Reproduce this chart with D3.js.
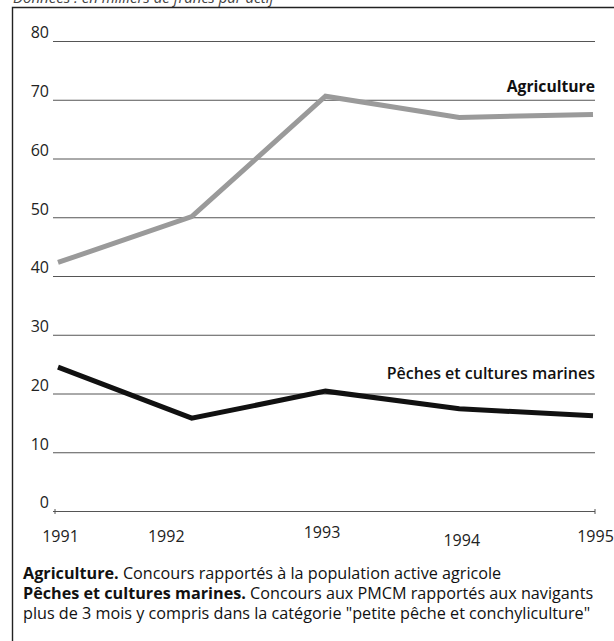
<!DOCTYPE html>
<html><head><meta charset="utf-8">
<script src="https://cdn.jsdelivr.net/npm/d3@7"></script>
<style>body{margin:0;background:#fff}svg{display:block}</style>
</head><body>
<script>
const years = [1991, 1992, 1993, 1994, 1995];
const agriculture = [42.3, 50.1, 70.6, 67.0, 67.5];
const peches = [24.5, 15.8, 20.4, 17.4, 16.2];
const yTicks = [0, 10, 20, 30, 40, 50, 60, 70, 80];
const yearLabels = ["1991", "1992", "1993", "1994", "1995"];
const caption = "Données : en milliers de francs par actif";
const notes = [
  [["Agriculture.", 1], [" Concours rapportés à la population active agricole", 0]],
  [["Pêches et cultures marines.", 1], [" Concours aux PMCM rapportés aux navigants", 0]],
  [["plus de 3 mois y compris dans la catégorie \"petite pêche et conchyliculture\"", 0]]
];

const W = 614, H = 641;
const svg = d3.select("body").append("svg").attr("width", W).attr("height", H);
const font = "'Open Sans', 'DejaVu Sans', sans-serif";

const x = d3.scaleLinear().domain([1991, 1995]).range([58, 593]);
const y = d3.scaleLinear().domain([0, 80]).range([511, 41]);

// caption (cut off at top, as in the reference)
svg.append("text").attr("x", 13).attr("y", 3).attr("font-family", font)
  .attr("font-style", "italic").attr("font-size", 15).attr("fill", "#444").text(caption);

// frame
svg.append("path").attr("d", `M12.5,${H + 5}V7.5H${W + 5}`).attr("fill", "none")
  .attr("stroke", "#222").attr("stroke-width", 1.4);

// gridlines + y labels
const yAxis = d3.axisLeft(y).tickValues(yTicks).tickSize(0).tickPadding(0);
const gy = svg.append("g").call(yAxis);
gy.select(".domain").remove();
gy.selectAll(".tick text").attr("x", 49).attr("dy", "-0.2em").attr("text-anchor", "end")
  .attr("font-family", font).attr("font-size", 16).attr("fill", "#222");
gy.selectAll(".tick").append("line").attr("x1", 53).attr("x2", 595)
  .attr("stroke", "#555").attr("stroke-width", 1);

// small ticks at the ends of the zero line
[1991, 1995].forEach(v => {
  const xx = x(v) + (v === 1991 ? -3 : 2);
  svg.append("line").attr("x1", xx).attr("x2", xx)
    .attr("y1", y(0) - 2).attr("y2", y(0) + 3).attr("stroke", "#555");
});

// x labels
const xLabelShift = [2, -26, -4, 2, 2];
const xLabelDy = [0, 0, -4, 4, 0];
const xAxis = d3.axisBottom(x).tickValues(years).tickFormat((d, i) => yearLabels[i]).tickSize(0).tickPadding(0);
const gx = svg.append("g").attr("transform", `translate(0,${y(0)})`).call(xAxis);
gx.select(".domain").remove();
gx.selectAll(".tick text").attr("y", 31).attr("dy", 0)
  .attr("dx", (d, i) => xLabelShift[i])
  .attr("transform", (d, i) => `translate(0,${xLabelDy[i]})`)
  .attr("font-family", font).attr("font-size", 16).attr("fill", "#222");

// lines
const line = d3.line().x((d, i) => x(years[i])).y(d => y(d));
svg.append("path").datum(agriculture).attr("d", line).attr("fill", "none")
  .attr("stroke", "#9a9a9a").attr("stroke-width", 5);
svg.append("path").datum(peches).attr("d", line).attr("fill", "none")
  .attr("stroke", "#111").attr("stroke-width", 5);

// series labels
svg.append("text").attr("x", 595).attr("y", 92).attr("text-anchor", "end")
  .attr("font-family", font).attr("font-weight", 700).attr("font-size", 15.7).attr("fill", "#111").text("Agriculture");
svg.append("text").attr("x", 595).attr("y", 379).attr("text-anchor", "end")
  .attr("font-family", font).attr("font-weight", 600).attr("font-size", 16).attr("fill", "#111").text("Pêches et cultures marines");

// notes
notes.forEach((parts, i) => {
  const t = svg.append("text").attr("x", 23).attr("y", 579 + i * 20)
    .attr("font-family", font).attr("font-size", 16.2).attr("fill", "#111");
  parts.forEach(([s, b]) => t.append("tspan").attr("font-weight", b ? 700 : 400).text(s));
});
</script>
</body></html>
